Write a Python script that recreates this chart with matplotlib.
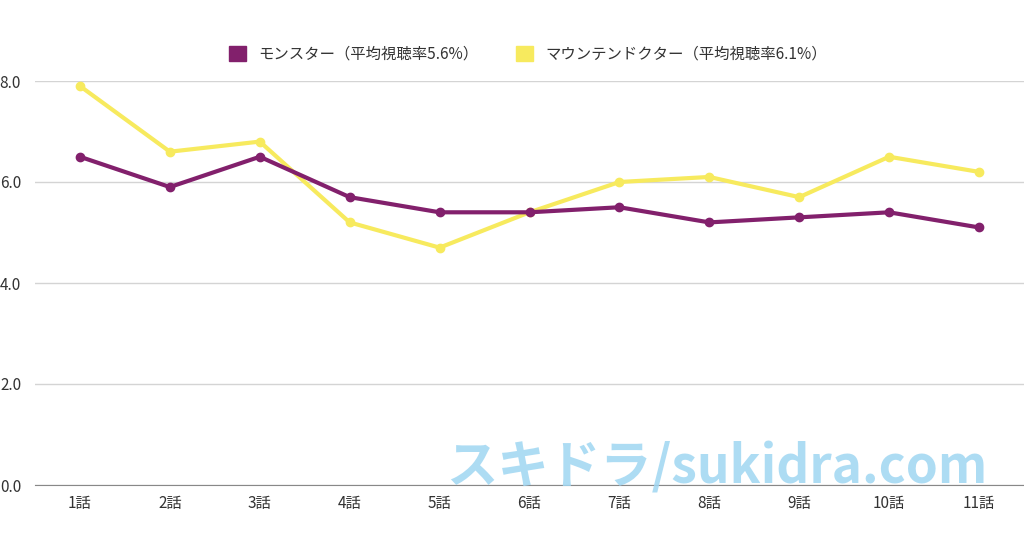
import matplotlib
matplotlib.use('agg')
import matplotlib.pyplot as plt
from matplotlib.patches import Patch

plt.rcParams['font.family'] = ['Noto Sans CJK JP', 'DejaVu Sans']

episodes = ['1話', '2話', '3話', '4話', '5話', '6話', '7話', '8話', '9話', '10話', '11話']
monster = [6.5, 5.9, 6.5, 5.7, 5.4, 5.4, 5.5, 5.2, 5.3, 5.4, 5.1]
mountain = [7.9, 6.6, 6.8, 5.2, 4.7, 5.4, 6.0, 6.1, 5.7, 6.5, 6.2]
series_names = ['モンスター（平均視聴率5.6%）', 'マウンテンドクター（平均視聴率6.1%）']
colors = ['#82206C', '#F7EA5E']
yticks = [0, 2, 4, 6, 8]

fig = plt.figure(figsize=(10.24, 5.38), dpi=100)
ax = fig.add_axes([35 / 1024, 1 - 485 / 538, 1 - 35 / 1024, (485 - 81) / 538])

x = list(range(1, len(episodes) + 1))
ax.plot(x, mountain, color=colors[1], lw=3, marker='o', ms=6, zorder=3)
ax.plot(x, monster, color=colors[0], lw=3, marker='o', ms=6, zorder=4)

ax.set_xlim(0.5, 11.5)
ax.set_ylim(0, 8)
ax.set_xticks(x)
ax.set_xticklabels(episodes, fontsize=11, color='#333333')
ax.set_yticks(yticks)
ax.set_yticklabels(['%.1f' % v for v in yticks], fontsize=11, color='#333333')
ax.tick_params(length=0, pad=7)
ax.tick_params(axis='y', pad=10)
ax.grid(axis='y', color='#d4d4d4', lw=1)
ax.set_axisbelow(True)
for s in ['top', 'right', 'left']:
    ax.spines[s].set_visible(False)
ax.spines['bottom'].set_color('#888888')
for l in ax.get_lines():
    l.set_clip_on(False)

handles = [Patch(color=colors[0]), Patch(color=colors[1])]
fig.legend(handles, series_names, loc='center', bbox_to_anchor=(528 / 1024, 1 - 54 / 538),
           ncol=2, frameon=False, fontsize=11.1, handlelength=1.1, handleheight=1.1,
           columnspacing=2.4, handletextpad=0.8, labelcolor='#333333')

fig.text(717 / 1024, 1 - 468 / 538, 'スキドラ/sukidra.com', ha='center', va='center',
         fontsize=37, fontweight='bold', color='#9fd6f2', alpha=0.85, zorder=10)

fig.savefig('out.png', dpi=100)
